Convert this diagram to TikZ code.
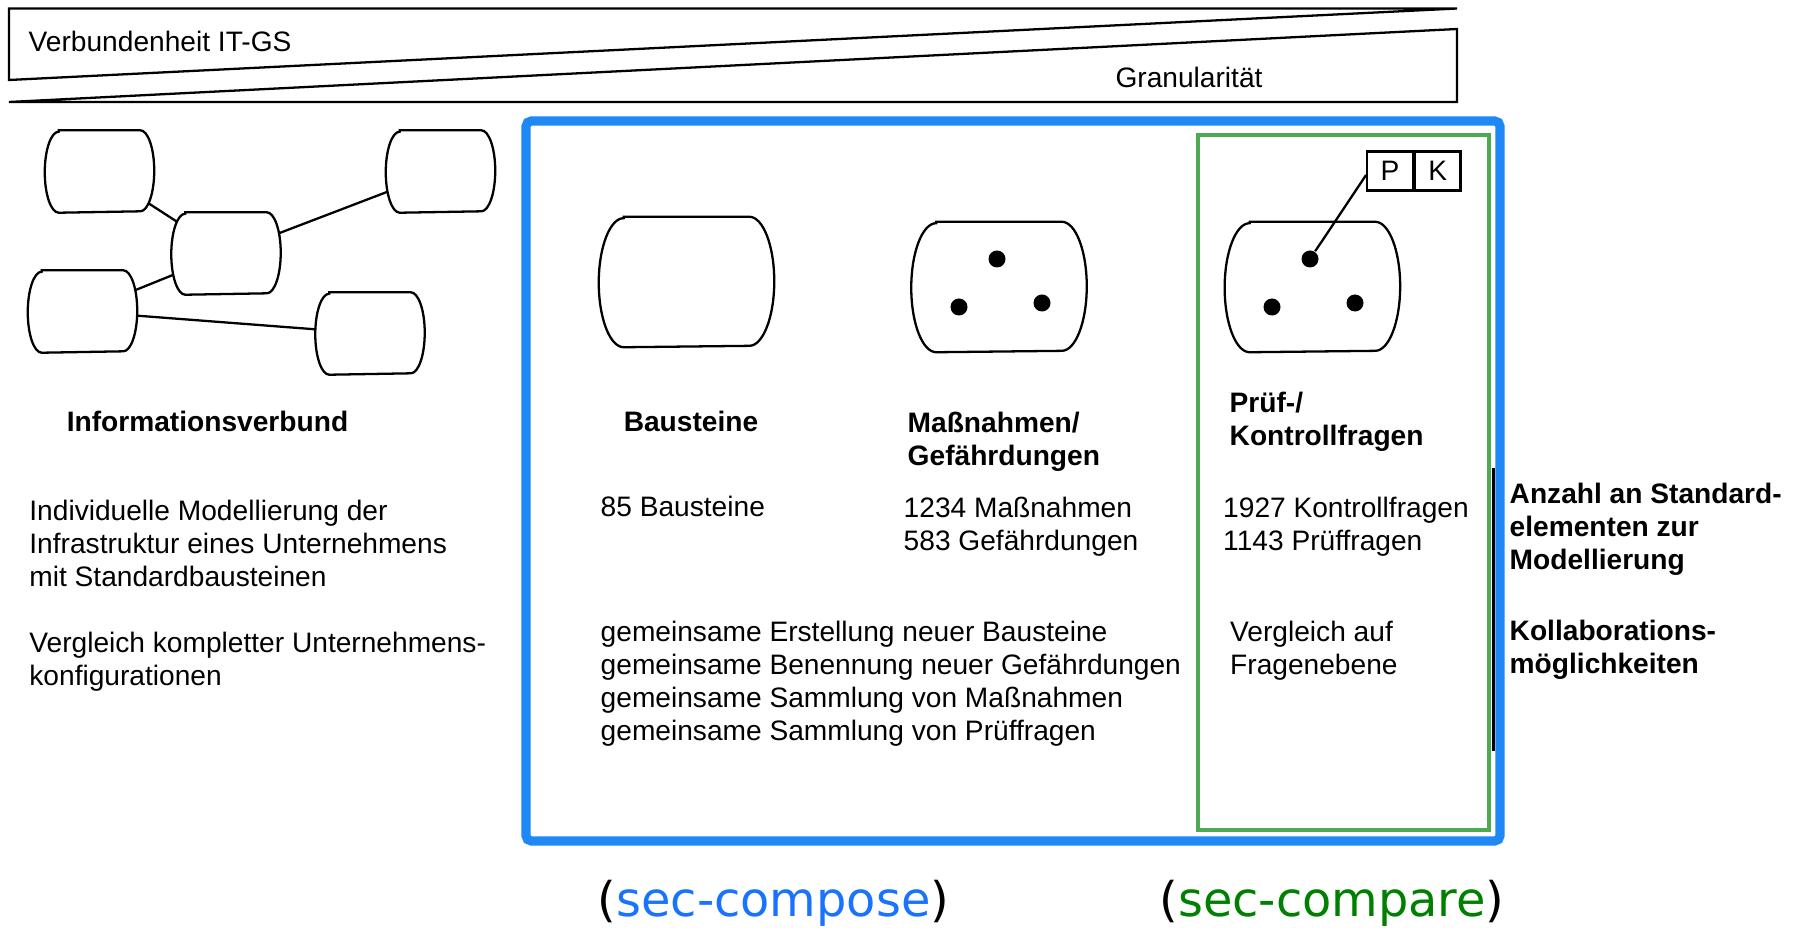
\documentclass[tikz,border=0pt]{standalone}
\usepackage{fontspec}
\setmainfont{Liberation Sans}
\newfontfamily\reffont{DejaVu Sans}

\definecolor{frameblue}{RGB}{30,137,245}
\definecolor{framegreen}{RGB}{76,170,80}
\definecolor{refblue}{RGB}{25,115,255}
\definecolor{refgreen}{RGB}{0,128,0}

\begin{document}
\begin{tikzpicture}[x=0.01cm, y=-0.01cm,
	ivbox/.style={minimum width=1.08cm, minimum height=0.81cm, inner sep=0pt},
	fragbox/.style={minimum width=1.74cm, minimum height=1.29cm, inner sep=0pt},
	barrelline/.style={line width=0.65pt, fill=white},
	blob/.style={circle, fill, inner sep=0pt, minimum size=0.17cm},
	txt/.style={font=\fontsize{8}{9.4}\selectfont, align=left, inner sep=0pt},
	head/.style={font=\fontsize{8}{9.4}\selectfont\bfseries, align=left, inner sep=0pt},
	pkcell/.style={txt, draw, line width=0.65pt, minimum width=0.455cm, minimum height=0.39cm}]
	\useasboundingbox (0,0) rectangle (1798,928);

	% wedges on top
	\coordinate (WTL) at (9,8.5); % wedge top left
	\coordinate (WTR) at (1457,8.5); % wedge top right
	\coordinate (WML) at (9,80); % wedge middle left
	\coordinate (WMR) at (1457,29); % wedge middle right
	\coordinate (WBL) at (9,102); % wedge bottom left
	\coordinate (WBR) at (1457,102); % wedge bottom right

	\draw[line width=0.65pt] (WTR) -- (WTL) -- (WML) -- cycle;
	\draw[line width=0.65pt] (WBL) -- (WBR) -- (WMR) -- cycle;
	\node[txt, anchor=west] (verb) at (28,41) {Verbundenheit IT-GS};
	\node[txt] (gran) at (1189,77) {Granularität};

	% Informationsverbund
	\node[ivbox] (ivA) at (99.5,171.5) {};
	\node[ivbox] (ivB) at (440.5,171.5) {};
	\node[ivbox] (ivC) at (226,253.5) {};
	\node[ivbox] (ivD) at (82.5,311.5) {};
	\node[ivbox] (ivE) at (370,333.5) {};
	\draw[line width=0.65pt] (ivA.center) -- (ivC.center);
	\draw[line width=0.65pt] (ivC.center) -- (ivB.center);
	\draw[line width=0.65pt] (ivD.center) -- (ivC.center);
	\draw[line width=0.65pt] (ivD.center) -- (ivE.center);
	\foreach \n in {ivA,ivB,ivC,ivD,ivE}
		\draw[barrelline] ([xshift=0.14cm]\n.north west) -- ([xshift=-0.14cm]\n.north east)
			arc[start angle=90, end angle=-90, x radius=0.14cm, y radius=0.405cm]
			-- ([xshift=0.14cm]\n.south west)
			arc[start angle=270, end angle=90, x radius=0.14cm, y radius=0.405cm] -- cycle;

	\node[head] (ivhead) at (207.5,421.7) {Informationsverbund};
	\node[txt, anchor=west] (ivtext1) at (28.7,543.5) {Individuelle Modellierung der\\Infrastruktur eines Unternehmens\\mit Standardbausteinen};
	\node[txt, anchor=west] (ivtext2) at (28.7,661.7) {Vergleich kompletter Unternehmens-\\konfigurationen};

	% frames
	\draw[frameblue, line width=2.6pt, rounded corners=1.5pt] (526,121) rectangle (1500,841);
	\draw[framegreen, line width=1pt] (1198,135) rectangle (1489,830);
	\coordinate (RT) at (1493.5,468); % rule top
	\coordinate (RB) at (1493.5,751); % rule bottom
	\draw[line width=0.7pt] (RT) -- (RB);

	% the three element kinds
	\node[fragbox] (bst) at (686.5,282) {};
	\node[fragbox] (mas) at (999,287) {};
	\node[fragbox] (pkf) at (1312.4,287) {};
	\foreach \n in {bst,mas,pkf}
		\draw[barrelline] ([xshift=0.25cm]\n.north west) -- ([xshift=-0.25cm]\n.north east)
			arc[start angle=90, end angle=-90, x radius=0.25cm, y radius=0.645cm]
			-- ([xshift=0.25cm]\n.south west)
			arc[start angle=270, end angle=90, x radius=0.25cm, y radius=0.645cm] -- cycle;

	% Bausteine
	\node[head] (bsthead) at (691,421.7) {Bausteine};
	\node[txt, anchor=west] (bstnum) at (600,506) {85 Bausteine};

	% Massnahmen
	\node[blob] (m1) at (997,259) {};
	\node[blob] (m2) at (959,307) {};
	\node[blob] (m3) at (1042,303) {};
	\node[head, anchor=west] (mashead) at (907,441.5) {Maßnahmen/\\Gefährdungen};
	\node[txt, anchor=west] (masnum) at (903,526.5) {1234 Maßnahmen\\583 Gefährdungen};

	% Pruef-/Kontrollfragen
	\node[blob] (p1) at (1310,259) {};
	\node[blob] (p2) at (1272,307) {};
	\node[blob] (p3) at (1355,303) {};
	\node[pkcell] (P) at (1390,171) {P};
	\node[pkcell, anchor=west] (K) at (P.east) {K};
	\draw[line width=0.65pt] (p1) -- ([yshift=-0.04cm]P.west);
	\node[head, anchor=west] (pkfhead) at (1229,421.7) {Prüf-/\\Kontrollfragen};
	\node[txt, anchor=west] (pkfnum) at (1222.5,526.5) {1927 Kontrollfragen\\1143 Prüffragen};

	\node[txt, anchor=west] (collab) at (600,684) {gemeinsame Erstellung neuer Bausteine\\gemeinsame Benennung neuer Gefährdungen\\gemeinsame Sammlung von Maßnahmen\\gemeinsame Sammlung von Prüffragen};
	\node[txt, anchor=west] (compare) at (1229.5,650.7) {Vergleich auf\\Fragenebene};

	% row labels
	\node[head, anchor=west] (rownum) at (1509,529) {Anzahl an Standard-\\elementen zur\\Modellierung};
	\node[head, anchor=west] (rowcollab) at (1509,650) {Kollaborations-\\möglichkeiten};

	% section refs
	\node[font=\reffont\fontsize{13.6}{16}\selectfont, inner sep=0pt] (seccompose) at (773.5,903) {(\textcolor{refblue}{sec-compose})};
	\node[font=\reffont\fontsize{13.6}{16}\selectfont, inner sep=0pt] (seccompare) at (1332,903) {(\textcolor{refgreen}{sec-compare})};
\end{tikzpicture}
\end{document}
